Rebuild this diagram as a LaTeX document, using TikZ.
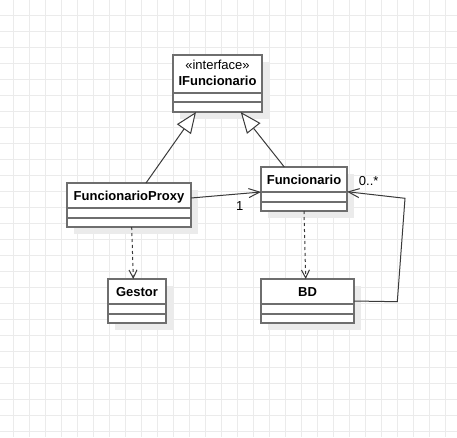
\documentclass[tikz,border=0pt]{standalone}
\usepackage{fontspec}
\setmainfont{Liberation Sans}
\usepackage{tikz}
\usetikzlibrary{arrows.meta,shadows}
\definecolor{gridgray}{HTML}{EBEBEB}
\definecolor{shadowgray}{HTML}{EBEBEB}
\definecolor{boxgray}{HTML}{6E6E6E}
\definecolor{linegray}{HTML}{3A3A3A}
\tikzset{every picture/.style={line width=1pt}}
\tikzset{
  gridline/.style={draw=gridgray, line width=1pt},
  umlclass/.style 2 args={draw=boxgray, line width=2pt, fill=white, rectangle,
    inner sep=0pt, outer sep=0pt, anchor=north west,
    text height=17pt, text depth=27pt,
    font=\fontsize{13}{15}\selectfont\bfseries, text=black,
    drop shadow={shadow xshift=7pt, shadow yshift=-7pt, fill=shadowgray, opacity=1},
    path picture={
      \draw[boxgray, line width=2pt] ([yshift=-#1]path picture bounding box.north west) -- ([yshift=-#1]path picture bounding box.north east);
      \draw[boxgray, line width=2pt] ([yshift=-#2]path picture bounding box.north west) -- ([yshift=-#2]path picture bounding box.north east);
    }},
  stereo/.style={font=\fontsize{13}{15}\selectfont\mdseries, text=black, inner sep=0pt, anchor=base},
  mult/.style={font=\fontsize{13}{15}\selectfont, text=black, inner sep=0pt, anchor=base},
  gen/.style={draw=linegray, -{Triangle[fill=white,length=21pt,width=17pt]}},
  assoc/.style={draw=linegray, -{Straight Barb[length=11pt,width=9pt]}},
  dep/.style={draw=linegray, dash pattern=on 3pt off 3pt, -{Straight Barb[length=8pt,width=8pt]}}
}

\begin{document}
\begin{tikzpicture}[x=1pt,y=-1pt]
\useasboundingbox (0,0) rectangle (457,437);
\fill[white] (0,0) rectangle (457,437);
% grid
\foreach \k in {0,...,27} \draw[gridline] ({13.3+16*\k},0) -- ({13.3+16*\k},437);
\foreach \k in {0,...,26} \draw[gridline] (0,{15+16*\k}) -- (457,{15+16*\k});
%
\node[umlclass={38pt}{47pt}, minimum width=89pt, text height=30pt, text depth=27pt,
  label={[stereo, yshift=-14.3pt]north:«interface»}] (ifunc) at (173,55) {IFuncionario};
\node[umlclass={25pt}{35pt}, minimum width=124pt] (proxy) at (67,183) {FuncionarioProxy};
\node[umlclass={25pt}{35pt}, minimum width=86pt] (func) at (261,167) {Funcionario};
\node[umlclass={25pt}{35pt}, minimum width=58pt] (gestor) at (108,279) {Gestor};
\node[umlclass={25pt}{35pt}, minimum width=93pt] (bd) at (261,279) {BD};
%
\draw[gen] ([xshift=17pt]proxy.north) -- ([xshift=-21.5pt]ifunc.south);
\draw[gen] ([xshift=-19.7pt]func.north) -- ([xshift=23.2pt]ifunc.south);
%
\draw[assoc] ([yshift=7pt]proxy.east) -- ([yshift=-3pt]func.west);
\node[mult] (one) at (239.7,210) {1};
\draw[assoc] (bd.east) -- (397.3,301.7) -- (405,198.3) -- ([yshift=-2.7pt]func.east);
\node[mult] (many) at (368.7,185) {0..*};
%
\draw[dep] ([xshift=2.7pt]proxy.south) -- ([xshift=-3.7pt]gestor.north);
\draw[dep] (func.south) -- ([xshift=-1.8pt]bd.north);
\end{tikzpicture}
\end{document}
